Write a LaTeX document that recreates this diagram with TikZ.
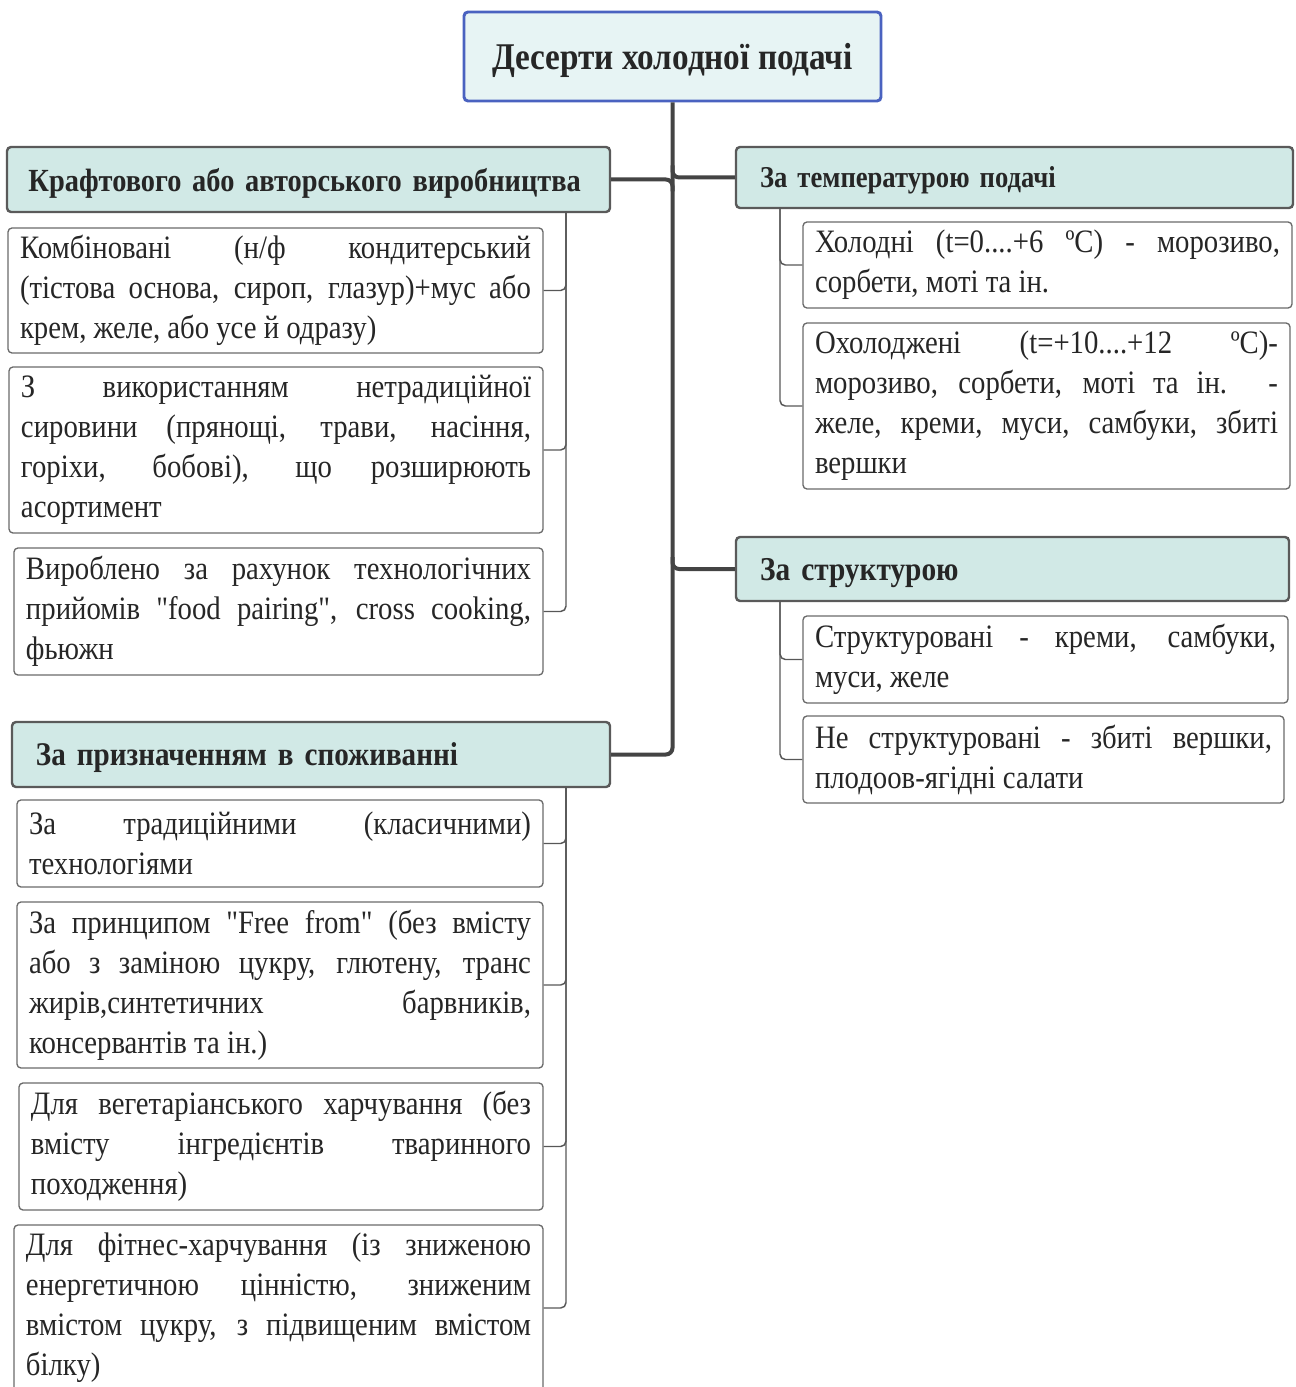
\documentclass[tikz,border=0pt]{standalone}
\usepackage{fontspec}
\setmainfont[FakeStretch=0.88,Ligatures=TeXOff]{Liberation Serif}
\usetikzlibrary{calc}
\definecolor{rootfill}{HTML}{E7F4F4}
\definecolor{rootdraw}{HTML}{4A62C0}
\definecolor{catfill}{HTML}{D1E9E6}
\definecolor{catdraw}{HTML}{5A5A5A}
\definecolor{leafdraw}{HTML}{6A6A6A}
\definecolor{linecol}{HTML}{444444}
\definecolor{txt}{HTML}{262626}
\hyphenpenalty=10000
\exhyphenpenalty=10000
\begin{document}
\begin{tikzpicture}[x=0.75pt,y=-0.75pt,
  rootbox/.style={draw=rootdraw, line width=2.2pt, fill=rootfill, rounded corners=3pt,
    inner sep=0pt, align=center, text depth=0pt, font=\fontsize{28.3}{32}\selectfont\bfseries, text=txt},
  catbox/.style={draw=catdraw, line width=1.8pt, fill=catfill, rounded corners=3pt,
    inner xsep=18pt, inner ysep=0pt, align=left, text depth=0pt, font=\fontsize{24.8}{28}\selectfont\bfseries, text=txt},
  leafbox/.style={draw=leafdraw, line width=1pt, fill=white, rounded corners=3pt,
    inner xsep=9pt, inner ysep=0pt, align=justify,
    font=\fontsize{24.5}{30}\selectfont, text=txt},
  trunk/.style={draw=linecol, line width=3pt},
  leafline/.style={draw=linecol!90, line width=1.1pt, rounded corners=4pt}]
\useasboundingbox (0,0) rectangle (1295,1387);
% root
\node[rootbox, minimum width=312.75pt, minimum height=66.75pt] (root) at (672.5,56.5) {Десерти холодної подачі};
% categories
\node[catbox, minimum width=452.25pt, minimum height=48.75pt, text width=420pt, inner xsep=16.125pt, font=\fontsize{24.2}{28}\selectfont\bfseries] (lc1) at (308.5,179.5) {Крафтового або авторського виробництва};
\node[catbox, minimum width=417.75pt, minimum height=45.75pt, text width=381.75pt, font=\fontsize{22.7}{26}\selectfont\bfseries] (rc1) at (1014.5,177.5) {За температурою подачі};
\node[catbox, minimum width=414.75pt, minimum height=48pt, text width=378.75pt, font=\fontsize{25}{28}\selectfont\bfseries] (rc2) at (1012.5,569) {За структурою};
\node[catbox, minimum width=448.5pt, minimum height=48.75pt, text width=412.5pt] (lc2) at (311,754.5) {За призначенням в споживанні};
% left leaves, group 1
\node[leafbox, minimum width=401.25pt, minimum height=93.75pt, text width=383.25pt] (l1) at (275.5,290.5)
 {Комбіновані (н/ф кондитерський\linebreak (тістова основа, сироп, глазур)+мус або\linebreak крем, желе, або усе й одразу)};
\node[leafbox, minimum width=400.5pt, minimum height=124.5pt, text width=382.5pt] (l2) at (276,450)
 {З використанням нетрадиційної\linebreak сировини (прянощі, трави, насіння,\linebreak горіхи, бобові), що розширюють\linebreak асортимент};
\node[leafbox, minimum width=396.75pt, minimum height=95.25pt, text width=378.75pt] (l3) at (278.5,611.5)
 {Вироблено за рахунок технологічних\linebreak прийомів "food pairing", cross cooking,\linebreak фьюжн};
% left leaves, group 2
\node[leafbox, minimum width=394.5pt, minimum height=65.25pt, text width=376.5pt] (m1) at (280,843.5)
 {За традиційними (класичними)\linebreak технологіями};
\node[leafbox, minimum width=394.5pt, minimum height=124.5pt, text width=376.5pt] (m2) at (280,985)
 {За принципом "Free from" (без вмісту\linebreak або з заміною цукру, глютену, транс\linebreak жирів,синтетичних барвників,\linebreak консервантів та ін.)};
\node[leafbox, minimum width=393pt, minimum height=95.25pt, text width=375pt] (m3) at (281,1146.5)
 {Для вегетаріанського харчування (без\linebreak вмісту інгредієнтів тваринного\linebreak походження)};
\node[leafbox, minimum width=396.75pt, minimum height=124.5pt, text width=378.75pt] (m4) at (278.5,1308)
 {Для фітнес-харчування (із зниженою\linebreak енергетичною цінністю, зниженим\linebreak вмістом цукру, з підвищеним вмістом\linebreak білку)};
% right leaves
\node[leafbox, minimum width=366.75pt, minimum height=64.5pt, text width=348.75pt] (r1) at (1047.5,265)
 {Холодні (t=0....+6 ºC) - морозиво,\linebreak сорбети, моті та ін.};
\node[leafbox, minimum width=365.25pt, minimum height=124.5pt, text width=347.25pt] (r2) at (1046.5,406)
 {Охолоджені (t=+10....+12 ºC)-\linebreak морозиво, сорбети, моті та ін. -\linebreak желе, креми, муси, самбуки, збиті\linebreak вершки};
\node[leafbox, minimum width=363.75pt, minimum height=65.25pt, text width=345.75pt] (s1) at (1045.5,659.5)
 {Структуровані - креми, самбуки,\linebreak муси, желе};
\node[leafbox, minimum width=360.75pt, minimum height=65.25pt, text width=342.75pt] (s2) at (1043.5,759.5)
 {Не структуровані - збиті вершки,\linebreak плодоов-ягідні салати};
% trunk connectors
\coordinate (t) at (root.south);
\draw[trunk, rounded corners=5pt] (root.south) |- (lc2.east);
\draw[trunk, rounded corners=5pt] (lc1.east) -| ($(lc1.east -| t)+(0,12)$);
\draw[trunk, rounded corners=5pt] (rc1.west) -| ($(rc1.west -| t)+(0,-12)$);
\draw[trunk, rounded corners=5pt] (rc2.west) -| ($(rc2.west -| t)+(0,-12)$);
% leaf connectors
\coordinate (v1) at (566,212);
\coordinate (v2) at (566,787);
\coordinate (w1) at (780,208);
\coordinate (w2) at (780,601);
\foreach \n in {l1,l2,l3} \draw[leafline] (v1) |- (\n.east);
\foreach \n in {m1,m2,m3,m4} \draw[leafline] (v2) |- (\n.east);
\foreach \n in {r1,r2} \draw[leafline] (w1) |- (\n.west);
\foreach \n in {s1,s2} \draw[leafline] (w2) |- (\n.west);
\end{tikzpicture}
\end{document}
